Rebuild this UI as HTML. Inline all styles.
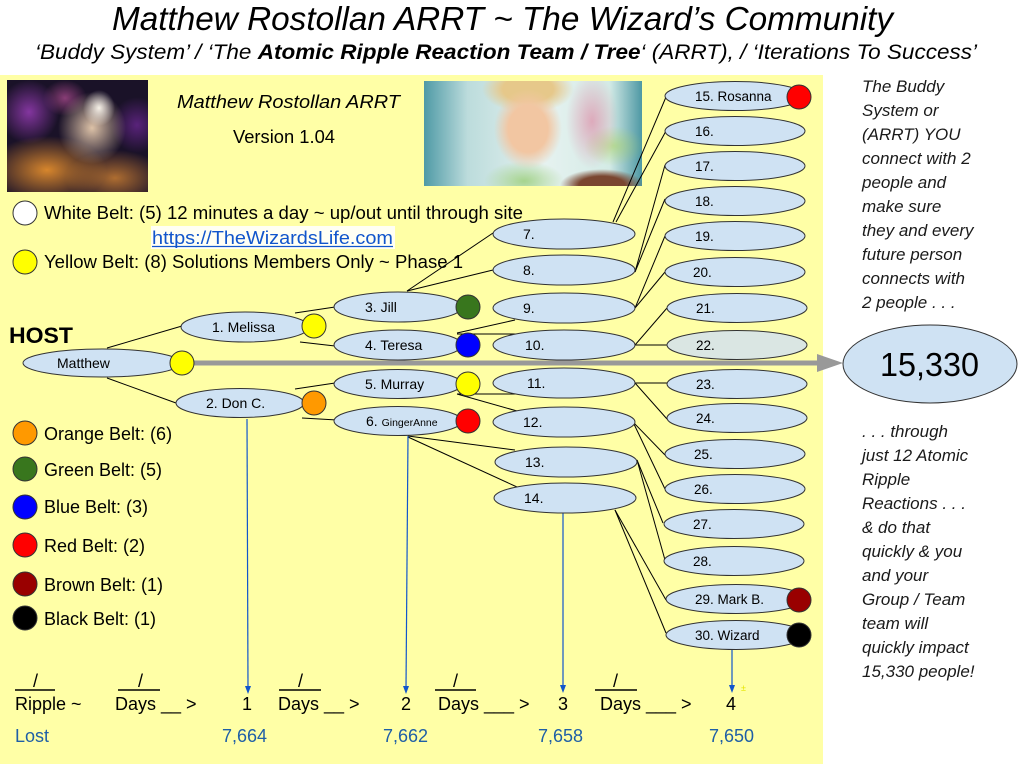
<!DOCTYPE html>
<html>
<head>
<meta charset="utf-8">
<style>
  html,body{margin:0;padding:0;background:#fff;}
  #wrap{position:relative;width:1024px;height:768px;overflow:hidden;background:#fff;font-family:"Liberation Sans",Arial,sans-serif;}
  #yel{position:absolute;left:0;top:75px;width:823px;height:689px;background:#ffffa6;}
  #wiz{position:absolute;left:7px;top:80px;width:141px;height:112px;
    background:
      radial-gradient(ellipse 16px 18px at 92px 28px, rgba(255,250,240,0.95), rgba(255,250,240,0) 100%),
      radial-gradient(ellipse 34px 36px at 85px 48px, rgba(255,225,190,0.85), rgba(255,225,190,0) 100%),
      radial-gradient(ellipse 60px 34px at 40px 90px, rgba(225,140,45,0.95), rgba(225,140,45,0) 100%),
      radial-gradient(ellipse 50px 28px at 108px 98px, rgba(200,125,50,0.85), rgba(200,125,50,0) 100%),
      radial-gradient(ellipse 30px 32px at 22px 32px, rgba(150,60,180,0.85), rgba(150,60,180,0) 100%),
      radial-gradient(ellipse 26px 28px at 130px 45px, rgba(110,40,150,0.75), rgba(110,40,150,0) 100%),
      radial-gradient(ellipse 22px 18px at 58px 18px, rgba(210,90,170,0.6), rgba(210,90,170,0) 100%),
      #1a1228;}
  #boy{position:absolute;left:424px;top:81px;width:218px;height:105px;
    background:
      radial-gradient(ellipse 34px 40px at 104px 48px, #f2c6a2 58%, rgba(242,198,162,0) 100%),
      radial-gradient(ellipse 46px 24px at 104px 8px, #e6c88a 55%, rgba(230,200,138,0) 100%),
      radial-gradient(ellipse 42px 16px at 178px 104px, #7a4630 55%, rgba(122,70,48,0) 100%),
      radial-gradient(ellipse 40px 20px at 100px 100px, #a6d48e, rgba(166,212,142,0) 100%),
      radial-gradient(ellipse 26px 48px at 168px 40px, rgba(225,115,150,0.55), rgba(225,115,150,0) 100%),
      radial-gradient(ellipse 30px 20px at 190px 65px, rgba(170,210,90,0.55), rgba(170,210,90,0) 100%),
      linear-gradient(90deg, #4f9aa6 0%, #bcdcdc 20%, #e6f2f0 55%, #d4ebe6 85%, #4d98a4 100%);}
  svg{position:absolute;left:0;top:0;}
</style>
</head>
<body>
<div id="wrap">
  <div id="yel"></div>
  <div id="wiz"></div>
  <div id="boy"></div>
  <svg width="1024" height="768" viewBox="0 0 1024 768" font-family="Liberation Sans, Arial, sans-serif">
    <!-- Title -->
    <text x="112" y="30" font-size="33" font-style="italic" fill="#000" textLength="781" lengthAdjust="spacingAndGlyphs">Matthew Rostollan ARRT ~ The Wizard’s Community</text>
    <text x="35" y="59" font-size="21" font-style="italic" fill="#000" textLength="942" lengthAdjust="spacingAndGlyphs">‘Buddy System’ / ‘The <tspan font-weight="bold">Atomic Ripple Reaction Team / Tree</tspan>‘ (ARRT), / ‘Iterations To Success’</text>

    <text x="177" y="108" font-size="18.5" font-style="italic" textLength="223" lengthAdjust="spacingAndGlyphs">Matthew Rostollan ARRT</text>
    <text x="233" y="143" font-size="18" textLength="102" lengthAdjust="spacingAndGlyphs">Version 1.04</text>

    <!-- legend top -->
    <circle cx="25" cy="213" r="12" fill="#fff" stroke="#333" stroke-width="1"/>
    <text x="44" y="219" font-size="18" textLength="479" lengthAdjust="spacingAndGlyphs">White Belt: (5) 12 minutes a day ~ up/out until through site</text>
    <rect x="151" y="226" width="244" height="23" fill="#fffff4"/>
    <text x="152" y="244" font-size="18" fill="#1155cc" textLength="241" lengthAdjust="spacingAndGlyphs">https://TheWizardsLife.com</text>
    <line x1="152" y1="246.5" x2="393" y2="246.5" stroke="#1155cc" stroke-width="1.2"/>
    <circle cx="25" cy="262" r="12" fill="#ffff00" stroke="#333" stroke-width="1"/>
    <text x="44" y="268" font-size="18" textLength="419" lengthAdjust="spacingAndGlyphs">Yellow Belt: (8) Solutions Members Only ~ Phase 1</text>

    <text x="9" y="343" font-size="22" font-weight="bold" textLength="64" lengthAdjust="spacingAndGlyphs">HOST</text>

    <!-- legend bottom -->
    <circle cx="25" cy="433" r="12" fill="#ff9900" stroke="#333"/>
    <text x="44" y="440" font-size="18">Orange Belt: (6)</text>
    <circle cx="25" cy="469" r="12" fill="#38761d" stroke="#333"/>
    <text x="44" y="476" font-size="18">Green Belt: (5)</text>
    <circle cx="25" cy="507" r="12" fill="#0000ff" stroke="#333"/>
    <text x="44" y="513" font-size="18">Blue Belt: (3)</text>
    <circle cx="25" cy="545" r="12" fill="#ff0000" stroke="#333"/>
    <text x="44" y="552" font-size="18">Red Belt: (2)</text>
    <circle cx="25" cy="584" r="12" fill="#990000" stroke="#333"/>
    <text x="44" y="591" font-size="18">Brown Belt: (1)</text>
    <circle cx="25" cy="618" r="12" fill="#000" stroke="#333"/>
    <text x="44" y="625" font-size="18">Black Belt: (1)</text>

    <!-- connectors -->
    <g stroke="#000" stroke-width="1" fill="none">
      <line x1="107" y1="348" x2="182" y2="326"/>
      <line x1="107" y1="378" x2="176" y2="403"/>
      <line x1="295" y1="313" x2="335" y2="307"/>
      <line x1="300" y1="342" x2="335" y2="346"/>
      <line x1="295" y1="389" x2="335" y2="383"/>
      <line x1="302" y1="418" x2="337" y2="420"/>
      <line x1="407" y1="291" x2="493" y2="233"/>
      <line x1="407" y1="291" x2="493" y2="270"/>
      <line x1="457" y1="333" x2="515" y2="320"/>
      <line x1="457" y1="334" x2="530" y2="334"/>
      <line x1="457" y1="394" x2="530" y2="394"/>
      <line x1="457" y1="394" x2="517" y2="411"/>
      <line x1="408" y1="436" x2="515" y2="450"/>
      <line x1="408" y1="437" x2="517" y2="487"/>
      <line x1="613" y1="222" x2="666" y2="97"/>
      <line x1="616" y1="222" x2="666" y2="131"/>
      <line x1="635" y1="272" x2="665" y2="165"/>
      <line x1="635" y1="272" x2="665" y2="199"/>
      <line x1="635" y1="308" x2="665" y2="236"/>
      <line x1="635" y1="308" x2="665" y2="272"/>
      <line x1="635" y1="345" x2="667" y2="308"/>
      <line x1="635" y1="345" x2="667" y2="345"/>
      <line x1="635" y1="383" x2="667" y2="383"/>
      <line x1="635" y1="383" x2="667" y2="419"/>
      <line x1="633" y1="422" x2="665" y2="455"/>
      <line x1="633" y1="422" x2="665" y2="489"/>
      <line x1="637" y1="460" x2="663" y2="523"/>
      <line x1="637" y1="460" x2="665" y2="560"/>
      <line x1="615" y1="510" x2="666" y2="600"/>
      <line x1="615" y1="510" x2="666" y2="633"/>
    </g>

    <!-- blue arrows -->
    <g stroke="#1155cc" stroke-width="1.2" fill="none">
      <line x1="247" y1="419" x2="248" y2="688"/>
      <line x1="408" y1="436" x2="406" y2="688"/>
      <line x1="563" y1="513" x2="563" y2="687"/>
      <line x1="732" y1="650" x2="732" y2="687"/>
    </g>
    <g fill="#1155cc">
      <polygon points="245,686 251,686 248,694"/>
      <polygon points="403,686 409,686 406,694"/>
      <polygon points="560,685 566,685 563,693"/>
      <polygon points="729,685 735,685 732,693"/>
    </g>
    <text x="741" y="691" font-size="9" fill="#e6e600">±</text>

    <!-- big gray arrow -->
    <line x1="194" y1="363" x2="818" y2="363" stroke="#999" stroke-width="5"/>
    <polygon points="817,354 843,363 817,372" fill="#999"/>

    <!-- ellipses -->
    <g fill="#cfe2f3" stroke="#333" stroke-width="1">
      <ellipse cx="102" cy="363" rx="79" ry="14"/>
      <ellipse cx="245" cy="327" rx="64" ry="15"/>
      <ellipse cx="240" cy="403" rx="64" ry="14.5"/>
      <ellipse cx="398" cy="307" rx="64" ry="15"/>
      <ellipse cx="398" cy="345" rx="64" ry="15"/>
      <ellipse cx="398" cy="384" rx="64" ry="14.5"/>
      <ellipse cx="398" cy="421" rx="64" ry="14.5"/>

      <ellipse cx="564" cy="234" rx="71" ry="15"/>
      <ellipse cx="564" cy="270" rx="71" ry="15"/>
      <ellipse cx="564" cy="308" rx="71" ry="15"/>
      <ellipse cx="564" cy="345" rx="71" ry="15"/>
      <ellipse cx="564" cy="383" rx="71" ry="15"/>
      <ellipse cx="564" cy="422" rx="71" ry="15"/>
      <ellipse cx="566" cy="462" rx="71" ry="15"/>
      <ellipse cx="565" cy="498" rx="71" ry="15"/>

      <ellipse cx="735" cy="96" rx="70" ry="14.5"/>
      <ellipse cx="735" cy="131" rx="70" ry="14.5"/>
      <ellipse cx="735" cy="166" rx="70" ry="14.5"/>
      <ellipse cx="735" cy="201" rx="70" ry="14.5"/>
      <ellipse cx="735" cy="236" rx="70" ry="14.5"/>
      <ellipse cx="735" cy="272" rx="70" ry="14.5"/>
      <ellipse cx="737" cy="308" rx="70" ry="14.5"/>
      <ellipse cx="737" cy="345" rx="70" ry="14.5" fill="#dae6e3"/>
      <ellipse cx="737" cy="384" rx="70" ry="14.5"/>
      <ellipse cx="737" cy="418" rx="70" ry="14.5"/>
      <ellipse cx="735" cy="454" rx="70" ry="14.5"/>
      <ellipse cx="735" cy="489" rx="70" ry="14.5"/>
      <ellipse cx="734" cy="524" rx="70" ry="14.5"/>
      <ellipse cx="734" cy="561" rx="70" ry="14.5"/>
      <ellipse cx="736" cy="599" rx="70" ry="14.5"/>
      <ellipse cx="736" cy="635" rx="70" ry="14.5"/>

      <ellipse cx="930" cy="364" rx="87" ry="39"/>
    </g>

    <!-- belt circles on nodes -->
    <g stroke="#333" stroke-width="1">
      <circle cx="182" cy="363" r="12" fill="#ffff00"/>
      <circle cx="314" cy="326" r="12" fill="#ffff00"/>
      <circle cx="314" cy="403" r="12" fill="#ff9900"/>
      <circle cx="468" cy="307" r="12" fill="#38761d"/>
      <circle cx="468" cy="345" r="12" fill="#0000ff"/>
      <circle cx="468" cy="384" r="12" fill="#ffff00"/>
      <circle cx="468" cy="421" r="12" fill="#ff0000"/>
      <circle cx="799" cy="97" r="12" fill="#ff0000"/>
      <circle cx="799" cy="600" r="12" fill="#990000"/>
      <circle cx="799" cy="635" r="12" fill="#000"/>
    </g>

    <!-- node labels -->
    <g font-size="14" fill="#000">
      <text x="57" y="368">Matthew</text>
      <text x="212" y="332">1. Melissa</text>
      <text x="206" y="408">2. Don C.</text>
      <text x="365" y="312">3. Jill</text>
      <text x="365" y="350">4. Teresa</text>
      <text x="365" y="389">5. Murray</text>
      <text x="366" y="426">6. <tspan font-size="10.5">GingerAnne</tspan></text>

      <text x="523" y="239">7.</text>
      <text x="523" y="275">8.</text>
      <text x="523" y="313">9.</text>
      <text x="525" y="350">10.</text>
      <text x="527" y="388">11.</text>
      <text x="523" y="427">12.</text>
      <text x="525" y="467">13.</text>
      <text x="524" y="503">14.</text>
    </g>
    <g font-size="13.5" fill="#000">
      <text x="695" y="101">15. Rosanna</text>
      <text x="695" y="136">16.</text>
      <text x="695" y="171">17.</text>
      <text x="695" y="206">18.</text>
      <text x="695" y="241">19.</text>
      <text x="693" y="277">20.</text>
      <text x="696" y="313">21.</text>
      <text x="696" y="350">22.</text>
      <text x="696" y="389">23.</text>
      <text x="696" y="423">24.</text>
      <text x="694" y="459">25.</text>
      <text x="694" y="494">26.</text>
      <text x="693" y="529">27.</text>
      <text x="693" y="566">28.</text>
      <text x="695" y="604">29. Mark B.</text>
      <text x="695" y="640">30. Wizard</text>
    </g>

    <text x="880" y="376" font-size="33" textLength="99" lengthAdjust="spacingAndGlyphs">15,330</text>

    <!-- right text -->
    <g font-size="17" font-style="italic" fill="#1a1a1a">
      <text x="862" y="92">The Buddy</text>
      <text x="862" y="116">System or</text>
      <text x="862" y="140">(ARRT) YOU</text>
      <text x="862" y="164">connect with 2</text>
      <text x="862" y="188">people and</text>
      <text x="862" y="212">make sure</text>
      <text x="862" y="236">they and every</text>
      <text x="862" y="260">future person</text>
      <text x="862" y="284">connects with</text>
      <text x="862" y="308">2 people . . .</text>

      <text x="862" y="437">. . . through</text>
      <text x="862" y="461">just 12 Atomic</text>
      <text x="862" y="485">Ripple</text>
      <text x="862" y="509">Reactions . . .</text>
      <text x="862" y="533">&amp; do that</text>
      <text x="862" y="557">quickly &amp; you</text>
      <text x="862" y="581">and your</text>
      <text x="862" y="605">Group / Team</text>
      <text x="862" y="629">team will</text>
      <text x="862" y="653">quickly impact</text>
      <text x="862" y="677">15,330 people!</text>
    </g>

    <!-- bottom fractions -->
    <g stroke="#000" stroke-width="1.5">
      <line x1="15" y1="690" x2="55" y2="690"/>
      <line x1="118" y1="690" x2="160" y2="690"/>
      <line x1="279" y1="690" x2="321" y2="690"/>
      <line x1="435" y1="690" x2="476" y2="690"/>
      <line x1="595" y1="690" x2="637" y2="690"/>
    </g>
    <g font-size="18" fill="#000">
      <text x="33" y="687">/</text>
      <text x="138" y="687">/</text>
      <text x="298" y="687">/</text>
      <text x="453" y="687">/</text>
      <text x="613" y="687">/</text>
      <text x="15" y="710">Ripple ~</text>
      <text x="115" y="710">Days __ &gt;</text>
      <text x="242" y="710">1</text>
      <text x="278" y="710">Days __ &gt;</text>
      <text x="401" y="710">2</text>
      <text x="438" y="710">Days ___ &gt;</text>
      <text x="558" y="710">3</text>
      <text x="600" y="710">Days ___ &gt;</text>
      <text x="726" y="710">4</text>
    </g>
    <g font-size="18" fill="#1f5fa6">
      <text x="15" y="742">Lost</text>
      <text x="222" y="742">7,664</text>
      <text x="383" y="742">7,662</text>
      <text x="538" y="742">7,658</text>
      <text x="709" y="742">7,650</text>
    </g>
  </svg>
</div>
</body>
</html>
